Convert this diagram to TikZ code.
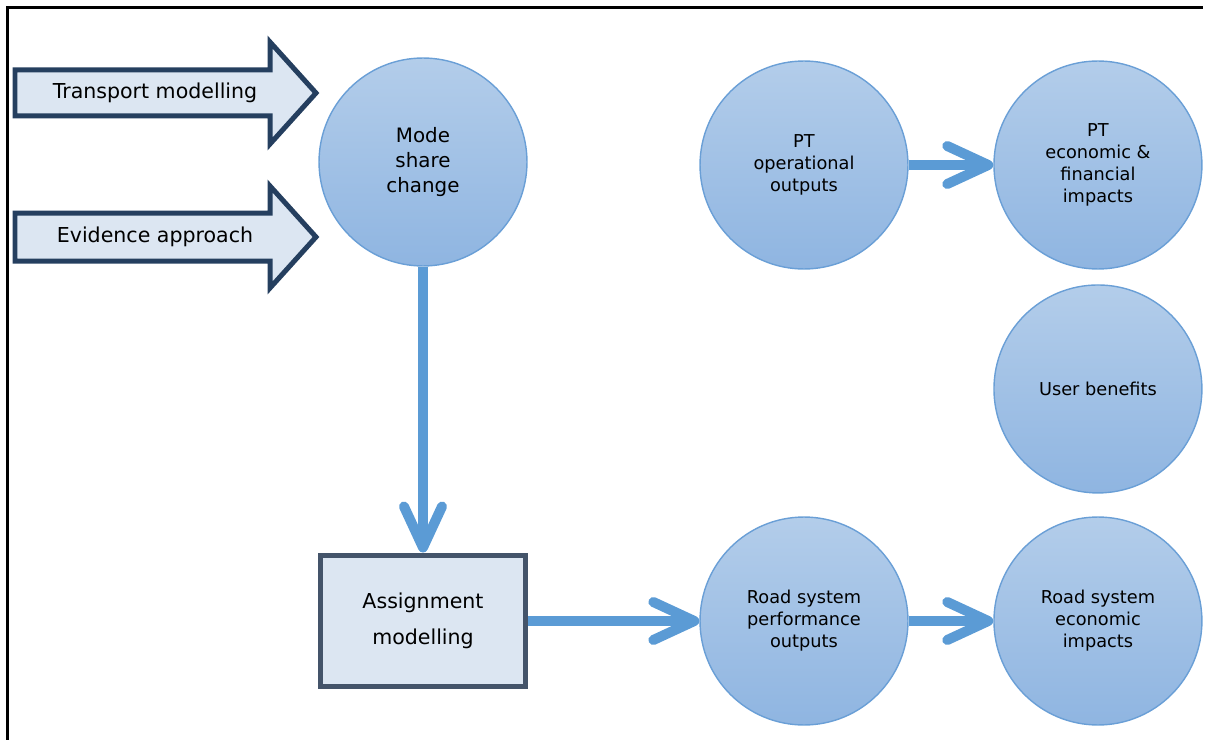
\documentclass[tikz,border=0pt]{standalone}
\usepackage{fontspec}
\setmainfont{DejaVu Sans}
\usetikzlibrary{arrows.meta,positioning}
\definecolor{flowblue}{HTML}{5B9BD5}
\definecolor{bubbleline}{HTML}{6A9FD6}
\definecolor{bubbletop}{HTML}{B3CDEA}
\definecolor{bubblebot}{HTML}{8FB5E1}
\definecolor{paleblue}{HTML}{DCE6F2}
\definecolor{boxline}{HTML}{44546A}
\definecolor{arrowline}{HTML}{253F5F}

\begin{document}
\begin{tikzpicture}[x=0.02cm,y=-0.02cm,>={Straight Barb[length=0.82cm,width=0.76cm,round]},
    node distance=5.88cm,
    flow/.style={->,line width=0.2cm,draw=flowblue},
    bubble node/.style={circle,draw=bubbleline,line width=0.8pt,top color=bubbletop,bottom color=bubblebot,minimum size=4.16cm,inner sep=0pt,align=center,font=\fontsize{10.1}{12.5}\selectfont},
    box node/.style={rectangle,draw=boxline,line width=0.1cm,fill=paleblue,minimum width=4.12cm,minimum height=2.64cm,align=center,font=\fontsize{11.7}{20.5}\selectfont},
    input arrow/.style={draw=arrowline,line width=0.1cm,fill=paleblue,miter limit=10},
    input text/.style={font=\fontsize{11.7}{14}\selectfont,inner sep=0pt}]

  \useasboundingbox (0,0) rectangle (1207,740);
  \draw[line width=1.7pt] (7.5,740) |- (1203,7.5);

  % inputs
  \draw[input arrow] (15,70) -- (270,70) -- (270,42) -- (316,93) -- (270,144) -- (270,116) -- (15,116) -- cycle;
  \node[input text] (transport) at (155,93) {Transport modelling};
  \draw[input arrow] (15,213) -- (270,213) -- (270,186) -- (316,237) -- (270,288) -- (270,261) -- (15,261) -- cycle;
  \node[input text] (evidence) at (155,237) {Evidence approach};

  \node[bubble node,font=\fontsize{11.3}{14.3}\selectfont] (mode) at (423,162) {Mode\\share\\change};
  \node[box node] (assign) at (423,621) {Assignment\\modelling};

  \node[bubble node] (ptops) at (804,165) {PT\\operational\\outputs};
  \node[bubble node] (ptecon) [right of=ptops] {PT\\economic \&\\financial\\impacts};
  \node[bubble node] (user) [below of=ptecon,node distance=4.48cm] {User benefits};

  \node[bubble node] (roadperf) at (804,621) {Road system\\performance\\outputs};
  \node[bubble node] (roadecon) [right of=roadperf] {Road system\\economic\\impacts};

  \draw[flow] (mode) -- (assign);
  \draw[flow] (assign) -- (roadperf);
  \draw[flow] (ptops) -- (ptecon);
  \draw[flow] (roadperf) -- (roadecon);

\end{tikzpicture}
\end{document}
